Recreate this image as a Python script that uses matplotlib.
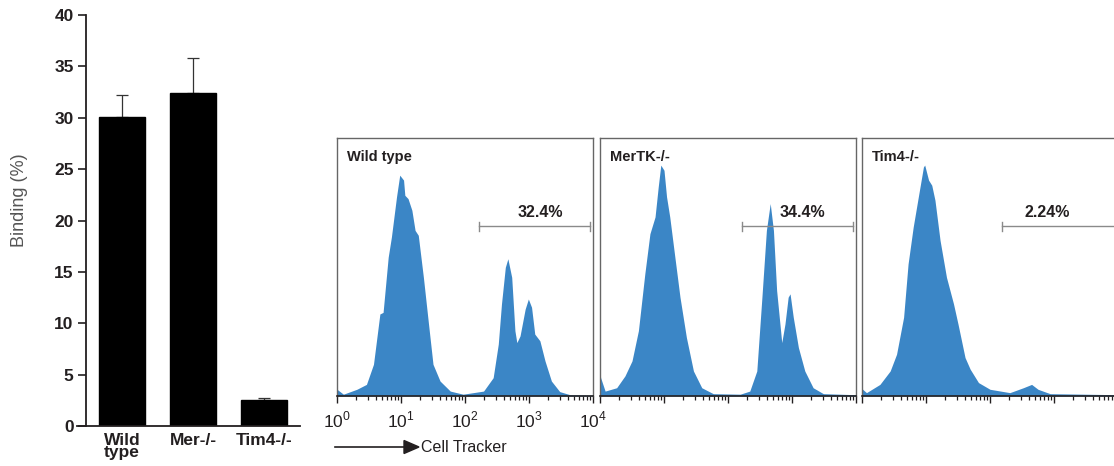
import numpy as np
import matplotlib.pyplot as plt
from matplotlib.ticker import LogLocator, NullFormatter, FixedLocator

plt.rcParams["font.family"] = ["Liberation Sans", "DejaVu Sans"]
plt.rcParams["mathtext.fontset"] = "custom"
plt.rcParams["mathtext.rm"] = "Liberation Sans"

# bar chart data
groups = ["Wild\ntype", "Mer-/-", "Tim4-/-"]
binding = [30.1, 32.4, 2.5]
binding_err = [2.1, 3.4, 0.25]
y_ticks = [0, 5, 10, 15, 20, 25, 30, 35, 40]

# histogram traces: log10(Cell Tracker) vs relative count
titles = ["Wild type", "MerTK-/-", "Tim4-/-"]
gate_pct = ["32.4%", "34.4%", "2.24%"]
gate_lo = [2.22, 2.22, 2.19]
gate_hi = [3.95, 3.95, 3.95]
label_at = [3.17, 3.16, 2.89]

wt_x = [0.0, 0.10, 0.31, 0.46, 0.57, 0.67, 0.72, 0.80, 0.85, 0.93, 0.98, 1.04, 1.06, 1.11,
        1.17, 1.22, 1.27, 1.35, 1.43, 1.50, 1.61, 1.77, 1.97, 2.29, 2.44, 2.52, 2.57, 2.63,
        2.67, 2.73, 2.78, 2.81, 2.86, 2.94, 2.99, 3.04, 3.09, 3.17, 3.25, 3.35, 3.48, 3.64, 4.0]
wt_y = [2.6, 0.7, 2.6, 4.5, 12.3, 31.8, 32.4, 53.8, 61.6, 77.2, 85.6, 83.7, 77.8, 76.5,
        72.0, 64.2, 62.3, 46.0, 27.9, 12.3, 5.8, 1.9, 0.7, 1.9, 7.1, 20.1, 35.7, 49.9,
        53.2, 46.0, 25.3, 20.7, 23.3, 33.7, 37.6, 34.4, 24.0, 21.4, 13.6, 5.8, 1.7, 0.5, 0.3]

mer_x = [0.0, 0.01, 0.08, 0.26, 0.39, 0.50, 0.60, 0.70, 0.78, 0.86, 0.91, 0.95, 1.00, 1.04,
         1.09, 1.17, 1.25, 1.35, 1.46, 1.59, 1.77, 2.19, 2.34, 2.45, 2.53, 2.60, 2.66, 2.71,
         2.76, 2.84, 2.89, 2.94, 2.97, 3.02, 3.10, 3.20, 3.33, 3.49, 4.0]
mer_y = [9.0, 7.1, 1.9, 3.2, 7.8, 13.6, 25.3, 47.3, 62.9, 69.4, 81.1, 89.5, 87.5, 77.2,
         69.4, 53.8, 38.3, 22.7, 9.7, 3.2, 0.9, 0.7, 1.9, 9.7, 38.3, 64.2, 74.6, 64.2,
         40.9, 20.7, 27.9, 38.3, 39.6, 30.5, 18.8, 9.7, 3.2, 0.9, 0.5]

tim_x = [0.0, 0.01, 0.07, 0.28, 0.44, 0.54, 0.65, 0.72, 0.80, 0.88, 0.96, 0.98, 1.04, 1.09,
         1.14, 1.22, 1.32, 1.43, 1.50, 1.61, 1.69, 1.82, 2.00, 2.31, 2.52, 2.65, 2.75, 2.94, 4.0]
tim_y = [3.0, 2.6, 1.3, 4.5, 9.7, 16.2, 30.5, 51.2, 65.5, 77.2, 88.8, 89.5, 83.7, 81.7,
         75.9, 60.3, 46.0, 35.7, 27.9, 14.9, 10.4, 5.2, 2.6, 1.3, 3.2, 4.5, 2.6, 0.9, 0.5]

traces = [(wt_x, wt_y), (mer_x, mer_y), (tim_x, tim_y)]

BLUE = "#3b86c6"
INK = "#231f20"

fig = plt.figure(figsize=(11.14, 4.66), dpi=100)
W, H = 1114, 466


def px_axes(x0, y0, x1, y1):
    # pixel box (top-left origin) -> figure fraction
    return fig.add_axes([x0 / W, 1 - y1 / H, (x1 - x0) / W, (y1 - y0) / H])


# --- bar chart ---
ax = px_axes(77, 15, 300, 426)
ax.set_xlim(-0.634, 2.507)
ax.set_ylim(0, 40)
# moving the spine resets the ticks, so do it before styling them
ax.spines["left"].set_position(("data", -0.507))
pos = np.arange(len(groups))
ax.bar(pos, binding, width=0.65, color="black", edgecolor="black", zorder=2)
ax.errorbar(pos, binding, yerr=[np.zeros(len(binding)), binding_err], fmt="none",
            ecolor="#333333", elinewidth=0.9, capsize=4.3, capthick=0.9, zorder=1)
ax.set_yticks(y_ticks, [str(v) for v in y_ticks], fontsize=12.5, fontweight="bold", color=INK)
ax.set_xticks(pos, groups, fontsize=12.5, fontweight="bold", color=INK, linespacing=0.72)
ax.tick_params(axis="x", length=0, pad=5)
ax.tick_params(axis="y", length=6, width=1.2, color=INK, pad=3)
for s in ["top", "right"]:
    ax.spines[s].set_visible(False)
for s in ["left", "bottom"]:
    ax.spines[s].set_linewidth(1.3)
    ax.spines[s].set_color(INK)
ax.set_ylabel("Binding (%)", fontsize=13, color="#555555")
ax.yaxis.set_label_coords(-0.22, 0.55)

# --- flow histograms ---
lefts = [337, 600, 862]
for i, (hx, hy) in enumerate(traces):
    hax = px_axes(lefts[i], 138, lefts[i] + 256, 396)
    xs = 10 ** np.array(hx)
    hax.fill_between(xs, 0, hy, color=BLUE, lw=0)
    hax.set_xscale("log")
    hax.set_xlim(1, 1e4)
    hax.set_ylim(0, 100)
    hax.set_yticks([])
    hax.xaxis.set_major_locator(FixedLocator([1, 10, 100, 1000, 10000]))
    hax.xaxis.set_minor_locator(LogLocator(base=10, subs=np.arange(2, 10)))
    hax.xaxis.set_minor_formatter(NullFormatter())
    hax.tick_params(axis="x", which="major", direction="out", length=5, width=1.0, color=INK)
    hax.tick_params(axis="x", which="minor", direction="out", length=2.8, width=0.9, color=INK)
    if i == 0:
        hax.set_xticklabels([r"$10^{0}$", r"$10^{1}$", r"$10^{2}$", r"$10^{3}$", r"$10^{4}$"],
                            fontsize=12.5, color=INK)
        hax.tick_params(axis="x", which="major", pad=5)
    else:
        hax.set_xticklabels([])
    for s in ["left", "top", "right"]:
        hax.spines[s].set_color("#666666")
        hax.spines[s].set_linewidth(1.0)
    hax.spines["bottom"].set_color(INK)
    hax.spines["bottom"].set_linewidth(1.2)
    hax.text(0.04, 0.955, titles[i], transform=hax.transAxes, fontsize=10.5, fontweight="bold",
             color=INK, ha="left", va="top")
    gy = 65.8
    hax.plot([10 ** gate_lo[i], 10 ** gate_hi[i]], [gy, gy], color="#8a8a8a", lw=1.0)
    for g in (gate_lo[i], gate_hi[i]):
        hax.plot([10 ** g, 10 ** g], [gy - 1.8, gy + 1.8], color="#8a8a8a", lw=1.0)
    hax.text(10 ** label_at[i], 69.3, gate_pct[i], fontsize=11.5, fontweight="bold",
             color=INK, ha="center", va="baseline")

# axis caption with arrow
fig.add_artist(plt.Line2D([335 / W, 408 / W], [1 - 447 / H, 1 - 447 / H], color=INK, lw=1.2))
fig.patches.append(plt.Polygon([[404 / W, 1 - 440.5 / H], [419 / W, 1 - 447 / H], [404 / W, 1 - 453.5 / H]],
                               closed=True, color=INK, transform=fig.transFigure, figure=fig))
fig.text(421 / W, 1 - 447 / H, "Cell Tracker", fontsize=11.5, color=INK, ha="left", va="center")

fig.savefig("out.png", dpi=100)
